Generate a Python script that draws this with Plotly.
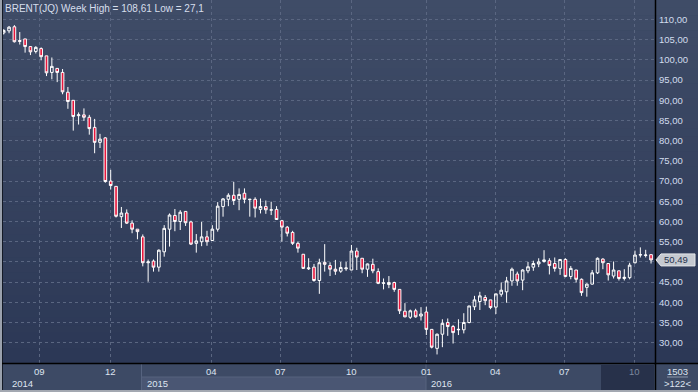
import plotly.graph_objects as go

# ---------------- data (weekly bars) ----------------
opens = [106.7, 107.2, 108.2, 104.8, 105.2, 103.3, 102.1, 102.8, 101.0, 96.9,
         97.9, 96.9, 92.0, 90.0, 86.2, 86.4, 85.8, 83.3, 79.6, 80.7,
         70.0, 68.7, 61.2, 62.1, 59.6, 58.1, 56.2, 49.8, 50.2, 48.7,
         52.5, 58.1, 61.5, 60.0, 62.5, 59.9, 54.6, 55.0, 56.2, 55.3,
         58.1, 63.7, 65.5, 66.5, 65.5, 67.0, 65.4, 65.5, 63.0, 63.7,
         62.8, 63.0, 60.2, 58.6, 57.3, 54.6, 51.9, 48.3, 48.7, 45.4,
         49.9, 49.1, 48.2, 47.7, 48.3, 48.0, 52.7, 50.9, 48.2, 49.4,
         47.6, 44.7, 44.4, 44.9, 43.2, 37.8, 36.3, 37.9, 36.6, 37.6,
         33.3, 28.6, 32.1, 35.0, 34.0, 33.2, 33.2, 35.0, 38.9, 40.2,
         41.2, 40.6, 38.8, 42.0, 42.6, 45.3, 47.0, 45.5, 47.8, 48.7,
         49.5, 50.1, 50.3, 49.6, 48.4, 50.6, 46.4, 48.0, 45.7, 43.7,
         44.5, 47.3, 50.7, 49.6, 46.5, 47.8, 45.9, 46.1, 49.8, 51.7,
         51.6, 51.8]
highs = [107.6, 108.4, 108.61, 106.9, 105.2, 103.3, 103.4, 103.1, 101.0, 100.6,
         97.9, 97.75, 93.3, 90.0, 87.0, 88.0, 86.4, 85.4, 81.7, 80.9,
         72.8, 68.7, 63.6, 63.0, 60.3, 58.1, 56.8, 50.6, 50.6, 53.1,
         59.1, 62.0, 63.1, 62.8, 62.5, 60.2, 56.9, 59.9, 57.7, 59.1,
         64.8, 65.8, 67.0, 69.8, 68.2, 68.2, 65.6, 66.0, 65.7, 65.2,
         64.9, 63.8, 60.4, 58.9, 57.7, 55.0, 51.9, 50.9, 49.5, 50.8,
         54.4, 49.9, 50.5, 50.0, 50.0, 54.2, 53.5, 50.9, 49.6, 50.8,
         48.4, 45.9, 46.5, 45.1, 43.2, 39.8, 38.2, 38.4, 38.8, 38.9,
         33.3, 32.3, 35.8, 36.0, 34.4, 35.8, 37.3, 39.1, 41.6, 42.6,
         41.8, 40.6, 42.1, 44.9, 46.3, 48.6, 47.6, 48.2, 50.0, 50.3,
         50.9, 52.9, 50.9, 51.1, 50.6, 50.9, 49.0, 48.0, 45.9, 44.7,
         48.0, 51.1, 50.9, 49.6, 50.1, 47.8, 48.2, 49.8, 52.8, 53.6,
         53.0, 51.8]
lows = [106.3, 106.6, 104.3, 103.8, 101.8, 101.2, 101.6, 99.9, 96.0, 95.2,
        94.5, 91.5, 87.9, 82.5, 84.0, 84.9, 81.5, 76.9, 78.2, 69.6,
        67.9, 61.0, 58.4, 59.4, 57.1, 55.6, 48.9, 45.1, 47.6, 47.6,
        51.3, 53.8, 57.6, 57.9, 58.9, 54.2, 52.3, 53.9, 54.0, 55.3,
        57.5, 61.2, 63.8, 64.1, 62.8, 64.5, 61.2, 61.0, 62.0, 61.9,
        61.6, 60.4, 55.0, 56.3, 54.2, 52.3, 48.25, 48.0, 45.1, 42.1,
        47.6, 46.5, 46.8, 47.3, 47.8, 48.0, 48.0, 47.2, 46.3, 47.2,
        44.5, 43.2, 43.5, 42.6, 37.1, 36.3, 35.9, 36.2, 35.5, 31.9,
        28.6, 27.1, 28.9, 31.7, 29.8, 31.9, 32.3, 34.8, 38.1, 38.1,
        39.3, 38.3, 37.1, 41.4, 39.9, 44.1, 44.1, 43.0, 47.2, 47.8,
        48.7, 49.8, 46.9, 47.6, 46.8, 46.2, 45.7, 44.9, 41.6, 41.4,
        44.4, 47.0, 48.2, 45.4, 45.9, 45.4, 45.4, 45.7, 49.6, 51.1,
        51.1, 49.6]
closes = [107.3, 108.1, 104.5, 104.6, 103.3, 102.0, 103.1, 100.8, 96.8, 98.4,
          96.9, 92.1, 89.7, 86.0, 86.4, 85.8, 83.0, 79.6, 80.4, 69.9,
          68.9, 61.3, 62.1, 59.6, 58.1, 57.5, 49.8, 50.0, 48.7, 52.9,
          58.3, 61.6, 60.0, 62.3, 59.7, 54.4, 55.2, 56.2, 55.0, 58.1,
          63.8, 65.6, 66.5, 65.2, 66.7, 65.5, 65.5, 63.3, 63.7, 62.9,
          62.9, 60.5, 58.6, 57.1, 54.6, 53.4, 48.4, 48.5, 45.4, 49.8,
          49.4, 48.2, 47.7, 48.6, 48.5, 52.7, 51.2, 48.2, 49.5, 47.8,
          44.7, 44.8, 44.9, 43.2, 37.9, 36.4, 37.9, 36.4, 37.1, 33.3,
          28.9, 32.1, 34.8, 34.0, 32.5, 33.3, 35.0, 39.1, 40.6, 41.6,
          40.4, 38.7, 42.1, 43.0, 45.3, 48.2, 45.3, 48.0, 48.8, 49.6,
          50.0, 50.5, 49.1, 48.4, 50.6, 46.4, 48.4, 45.7, 42.4, 44.5,
          47.3, 50.9, 49.8, 46.8, 48.0, 45.9, 46.2, 49.2, 51.7, 51.8,
          51.7, 50.49]

month_labels = ["09", "12", "04", "07", "10", "01", "04", "07", "10"]
month_pos = [6.65, 19.87, 38.84, 51.7, 65.1, 79.0, 91.85, 104.8, 118.0]
year_labels = ["2014", "2015", "2016"]
year_start = [-0.13, 25.8, 79.0]
price_ticks = [30, 35, 40, 45, 50, 55, 60, 65, 70, 75, 80, 85, 90, 95, 100, 105, 110]
price_tick_labels = [f"{v},00" for v in price_ticks]
title_text = "BRENT(JQ) Week High = 108,61 Low = 27,1"
last_label = "50,49"
bar_count_label = ">122<"
corner_label = "1503"

# ---------------- layout geometry ----------------
W, H = 698, 392
L, R, T, B = 3, 43, 0, 29
PW, PH = W - L - R, H - T - B
FONT = "Liberation Sans, Arial, sans-serif"


def px2x(px):
    return (px - L) / PW


def px2y(py):
    return (H - B - py) / PH


x_idx = list(range(len(opens)))

# the last-price marker covers the tick label next to it (as in the original)
shown_tick_labels = ["" if abs(v - closes[-1]) < 2.5 else t
                     for v, t in zip(price_ticks, price_tick_labels)]

fig = go.Figure()
fig.add_trace(go.Candlestick(
    x=x_idx, open=opens, high=highs, low=lows, close=closes,
    increasing=dict(line=dict(color="#ffffff", width=1), fillcolor="rgba(0,0,0,0)"),
    decreasing=dict(line=dict(color="#ffffff", width=1), fillcolor="#e8163c"),
    whiskerwidth=0, hoverinfo="skip", showlegend=False,
))

shapes = []
# gradient background
top = (63, 76, 103)
bot = (44, 56, 86)
n = 48
for i in range(n):
    t = i / (n - 1)
    c = tuple(round(top[k] + (bot[k] - top[k]) * t) for k in range(3))
    y0 = (H - B) * i / n
    y1 = (H - B) * (i + 1) / n + 0.6
    shapes.append(dict(type="rect", xref="paper", yref="paper", layer="below",
                       x0=px2x(0), x1=px2x(W), y0=px2y(y1), y1=px2y(y0),
                       fillcolor="rgb(%d,%d,%d)" % c, line=dict(width=0)))
# bottom axis band
shapes.append(dict(type="rect", xref="paper", yref="paper", layer="above",
                   x0=px2x(0), x1=px2x(W), y0=px2y(H), y1=px2y(363),
                   fillcolor="#3d4a65", line=dict(width=0)))
# lighter 2015 year row
shapes.append(dict(type="rect", xref="paper", yref="paper", layer="above",
                   x0=px2x(142), x1=px2x(426), y0=px2y(390), y1=px2y(377),
                   fillcolor="#4a5673", line=dict(width=0)))
shapes.append(dict(type="line", xref="paper", yref="paper", layer="above",
                   x0=px2x(142), x1=px2x(426), y0=px2y(377), y1=px2y(377),
                   line=dict(color="#56637f", width=1)))
for bx in (141.5, 426):
    shapes.append(dict(type="line", xref="paper", yref="paper", layer="above",
                       x0=px2x(bx), x1=px2x(bx), y0=px2y(390), y1=px2y(364),
                       line=dict(color="#56637f", width=1)))
# dark current period box
shapes.append(dict(type="rect", xref="paper", yref="paper", layer="above",
                   x0=px2x(601), x1=px2x(654), y0=px2y(390), y1=px2y(365),
                   fillcolor="#27314a", line=dict(width=0)))
# frame
shapes.append(dict(type="rect", xref="paper", yref="paper", layer="above",
                   x0=px2x(0), x1=px2x(2), y0=px2y(H), y1=px2y(0),
                   fillcolor="#9aa1ad", line=dict(width=0)))
shapes.append(dict(type="rect", xref="paper", yref="paper", layer="above",
                   x0=px2x(0), x1=px2x(W), y0=px2y(H), y1=px2y(390),
                   fillcolor="#a3a8b1", line=dict(width=0)))
shapes.append(dict(type="line", xref="paper", yref="paper", layer="above",
                   x0=px2x(2.5), x1=px2x(2.5), y0=px2y(390), y1=px2y(0),
                   line=dict(color="#141a26", width=1)))
# black separators
shapes.append(dict(type="line", xref="paper", yref="paper", layer="above",
                   x0=px2x(655.5), x1=px2x(655.5), y0=px2y(390), y1=px2y(0),
                   line=dict(color="#000000", width=1.5)))
shapes.append(dict(type="line", xref="paper", yref="paper", layer="above",
                   x0=px2x(2), x1=px2x(W), y0=px2y(363.5), y1=px2y(363.5),
                   line=dict(color="#000000", width=1.5)))
# underline in corner box
shapes.append(dict(type="line", xref="paper", yref="paper", layer="above",
                   x0=px2x(667), x1=px2x(688), y0=px2y(377), y1=px2y(377),
                   line=dict(color="#8c96aa", width=1)))

ann = []
ann.append(dict(text=title_text, xref="paper", yref="paper", x=px2x(3), y=px2y(8.5),
                xanchor="left", yanchor="middle", showarrow=False,
                font=dict(family=FONT, size=10, color="#d6deec")))
for i, (lab, pos) in enumerate(zip(month_labels, month_pos)):
    col = "#7d889e" if i == len(month_labels) - 1 else "#dde4f0"
    ann.append(dict(text=lab, xref="x", yref="paper", x=pos, y=px2y(371.5),
                    xanchor="center", yanchor="middle", showarrow=False,
                    font=dict(family=FONT, size=9.5, color=col)))
for lab, pos in zip(year_labels, year_start):
    ann.append(dict(text=lab, xref="x", yref="paper", x=pos, y=px2y(383),
                    xanchor="left", yanchor="middle", showarrow=False, xshift=7 if lab == "2014" else 3,
                    font=dict(family=FONT, size=9.5, color="#dde4f0")))
ann.append(dict(text=corner_label, xref="paper", yref="paper", x=px2x(677), y=px2y(371.5),
                xanchor="center", yanchor="middle", showarrow=False,
                font=dict(family=FONT, size=9.5, color="#dde4f0")))
ann.append(dict(text=bar_count_label, xref="paper", yref="paper", x=px2x(677), y=px2y(383.5),
                xanchor="center", yanchor="middle", showarrow=False,
                font=dict(family=FONT, size=9.5, color="#dde4f0")))

# last price marker
ly = 19.5 + (110 - closes[-1]) * 4.04
shapes.append(dict(type="path", xref="paper", yref="paper", layer="above",
                   path="M %f %f L %f %f L %f %f L %f %f L %f %f Z" % (
                       px2x(656), px2y(ly), px2x(661), px2y(ly - 6), px2x(695), px2y(ly - 6),
                       px2x(695), px2y(ly + 6), px2x(661), px2y(ly + 6)),
                   fillcolor="#c5c9d0", line=dict(color="#e4e6ea", width=1)))
ann.append(dict(text=last_label, xref="paper", yref="paper", x=px2x(662), y=px2y(ly),
                xanchor="left", yanchor="middle", showarrow=False,
                font=dict(family=FONT, size=9.5, color="#26324d")))

fig.update_layout(
    width=W, height=H, margin=dict(l=L, r=R, t=T, b=B, pad=0),
    paper_bgcolor="#2f3c58", plot_bgcolor="rgba(0,0,0,0)",
    shapes=shapes, annotations=ann, showlegend=False, hovermode=False,
    xaxis=dict(range=[-0.13, 121.74], rangeslider=dict(visible=False),
               tickvals=month_pos, ticktext=month_labels, showticklabels=False,
               showgrid=True, gridcolor="#5a6681", griddash="3px,3px", gridwidth=1,
               zeroline=False, showline=False, fixedrange=True),
    yaxis=dict(range=[24.98, 114.83], side="right", tickvals=price_ticks,
               ticktext=shown_tick_labels, ticks="", ticklabelstandoff=3,
               tickfont=dict(family=FONT, size=9.5, color="#d2dcee"),
               showgrid=True, gridcolor="#5a6681", griddash="3px,3px", gridwidth=1,
               zeroline=False, showline=False, fixedrange=True),
)

fig.write_html("out.html", config={"displayModeBar": False, "staticPlot": True},
               post_script="document.body.style.margin='0';document.body.style.overflow='hidden';")
